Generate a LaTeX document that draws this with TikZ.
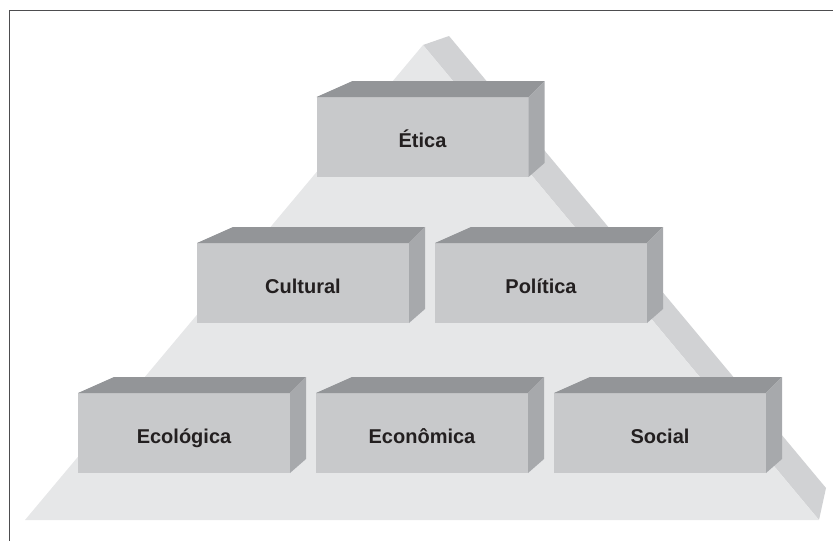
\documentclass[tikz,border=0pt]{standalone}
\usepackage{fontspec}
\setmainfont{Liberation Sans}
\usepackage{tikz}
\usetikzlibrary{positioning,calc}

\definecolor{basefrente}{HTML}{E6E7E8}
\definecolor{basefaixa}{HTML}{D1D2D4}
\definecolor{blocofrente}{HTML}{C8C9CB}
\definecolor{blocotopo}{HTML}{939598}
\definecolor{blocolado}{HTML}{A7A9AC}
\definecolor{texto}{HTML}{231F20}
\definecolor{moldura}{HTML}{4D4D4F}

\begin{document}
\begin{tikzpicture}[
    x=1pt, y=-1pt,
    node distance=0pt and 26pt,
    bloco/.style={rectangle, fill=blocofrente, minimum width=212pt,
                  minimum height=80pt, inner sep=0pt, outer sep=0pt,
                  text height=20pt, text depth=0pt,
                  text=texto, font=\fontsize{20}{24}\selectfont\bfseries},
    topo/.style={fill=blocotopo},
    lado/.style={fill=blocolado},
    borda/.style={draw=moldura, line width=1.3pt}
]
    \useasboundingbox (0,0) rectangle (833,541);

    % moldura
    \draw [borda] (9.5,541) -- (9.5,10.5) -- (833,10.5);

    % base da piramide
    \fill [basefaixa]  (423,45) -- (449,36) -- (826,488) -- (819,520) -- cycle;
    \fill [basefrente] (25,520) -- (423,45) -- (819,520) -- cycle;

    % blocos
    \node [bloco] (etica) at (422.5,137) {Ética};

    \node [bloco] (cultural) at (303,283) {Cultural};
    \node [bloco, right=of cultural] (politica) {Política};

    \node [bloco] (economica) at (422,433) {Econômica};
    \node [bloco, left=of economica]  (ecologica) {Ecológica};
    \node [bloco, right=of economica] (social)    {Social};

    % faces superiores e laterais
    \foreach \b in {etica,cultural,politica,ecologica,economica,social} {
        \fill [topo] (\b.north west) -- ++(36,-16)
            -- ($(\b.north east)+(16,-16)$) -- (\b.north east) -- cycle;
        \fill [lado] (\b.north east) -- ++(16,-16)
            -- ($(\b.south east)+(16,-14)$) -- (\b.south east) -- cycle;
    }
\end{tikzpicture}
\end{document}
